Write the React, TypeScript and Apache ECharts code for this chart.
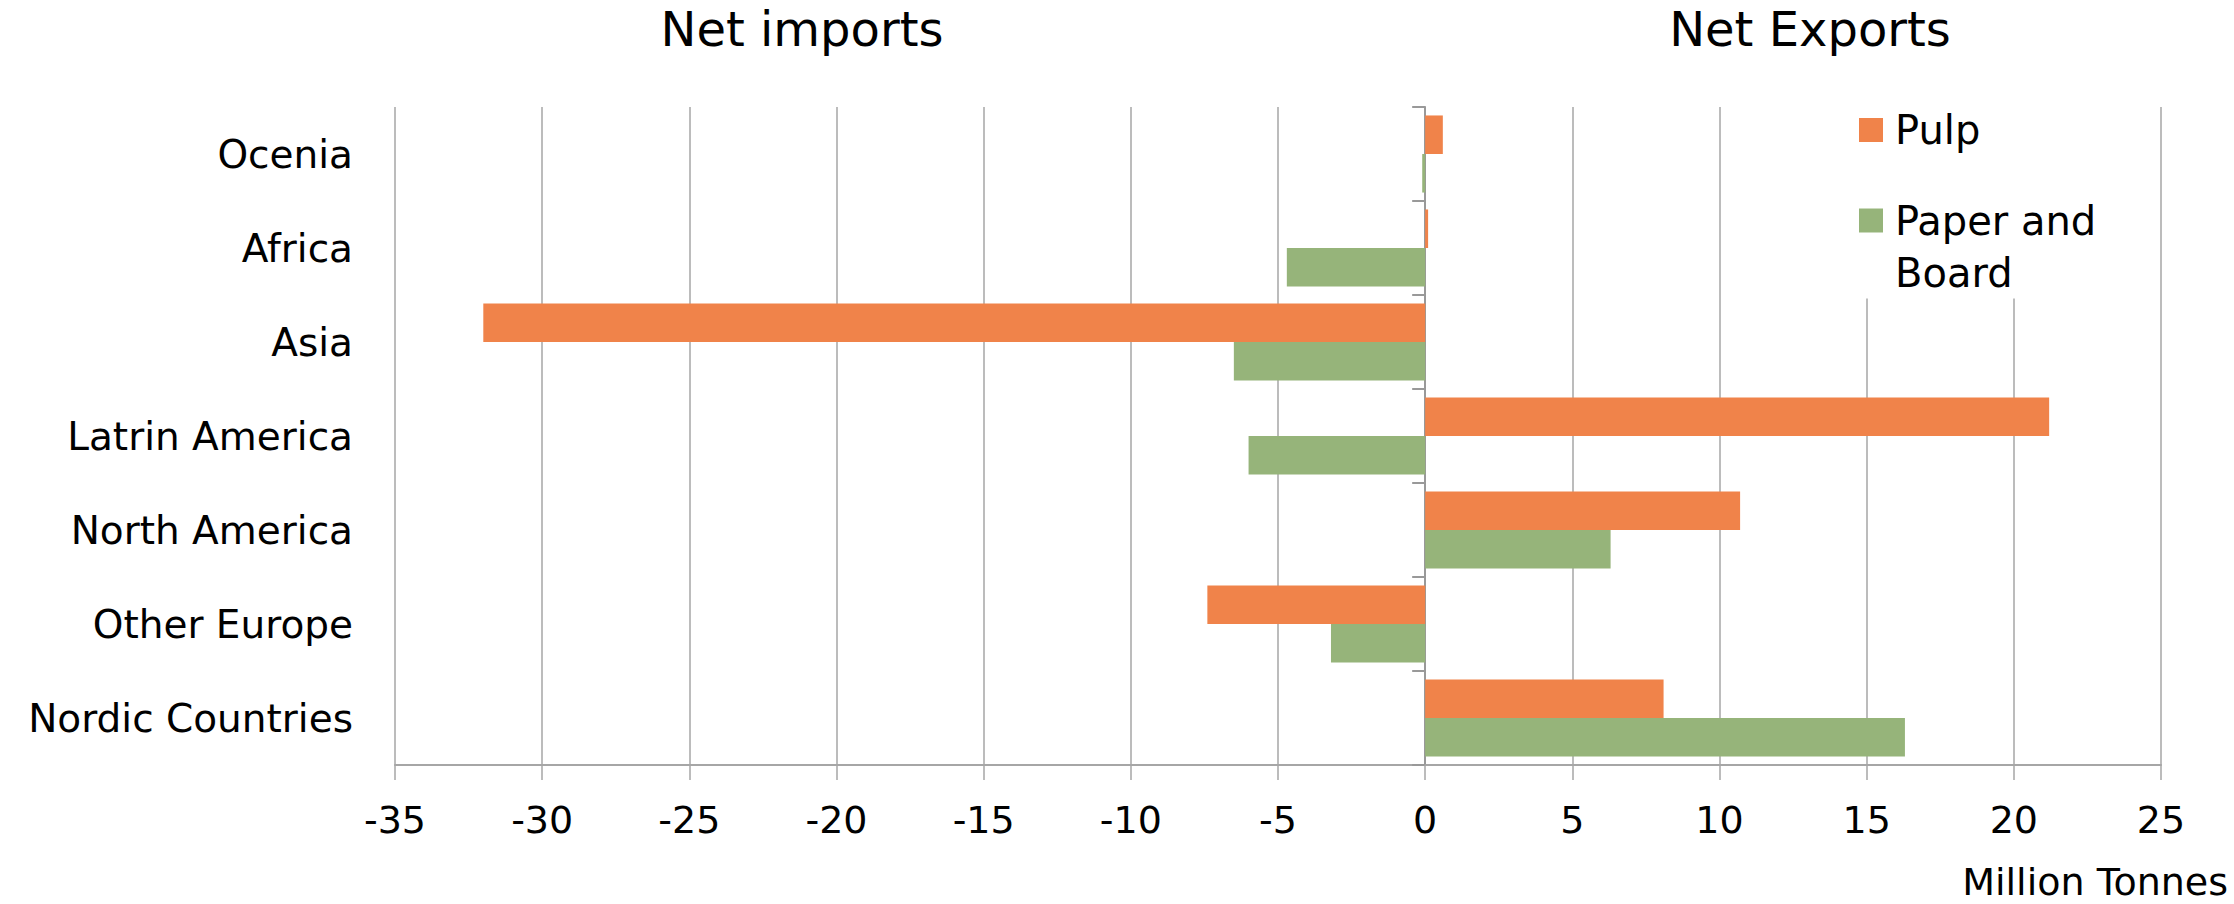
import React, { useEffect, useRef } from "react";
import * as echarts from "echarts";

const categories = [
  "Ocenia",
  "Africa",
  "Asia",
  "Latrin America",
  "North America",
  "Other Europe",
  "Nordic Countries",
];
const pulpValues = [0.6, 0.1, -32.0, 21.2, 10.7, -7.4, 8.1];
const paperValues = [-0.1, -4.7, -6.5, -6.0, 6.3, -3.2, 16.3];
const seriesNames = ["Pulp", "Paper and Board"];
const xMin = -35;
const xMax = 25;
const xInterval = 5;
const titleLeft = "Net imports";
const titleRight = "Net Exports";
const unitLabel = "Million Tonnes";

const FONT = "'DejaVu Sans', sans-serif";
const GRID_COLOR = "#A6A6A6";
const PULP_COLOR = "#F0834A";
const PAPER_COLOR = "#96B47A";

export default function App() {
  const ref = useRef<HTMLDivElement>(null);
  useEffect(() => {
    if (!ref.current) return;
    const chart = echarts.init(ref.current, null, { renderer: "svg" });
    chart.setOption({
      animation: false,
      backgroundColor: "#ffffff",
      grid: { left: 395, right: 73, top: 107, bottom: 139, containLabel: false },
      xAxis: {
        type: "value",
        min: xMin,
        max: xMax,
        interval: xInterval,
        axisLine: { show: true, onZero: false, lineStyle: { color: GRID_COLOR, width: 2 } },
        axisTick: { show: true, length: 15, lineStyle: { color: GRID_COLOR, width: 1.5 } },
        splitLine: { show: true, lineStyle: { color: GRID_COLOR, width: 1.5 } },
        axisLabel: { fontFamily: FONT, fontSize: 38, color: "#000", margin: 36 },
      },
      yAxis: [
        {
          type: "category",
          data: categories,
          inverse: true,
          axisLine: { show: true, onZero: true, lineStyle: { color: "#999999", width: 2 } },
          axisTick: { show: true, length: 13, lineStyle: { color: "#999999", width: 2 } },
          axisLabel: { show: false },
          splitLine: { show: false },
        },
        {
          type: "category",
          data: categories,
          inverse: true,
          position: "left",
          axisLine: { show: false, onZero: false },
          axisTick: { show: false },
          splitLine: { show: false },
          axisLabel: { fontFamily: FONT, fontSize: 39, color: "#000", margin: 42 },
        },
      ],
      legend: {
        orient: "vertical",
        left: 1850,
        top: 104,
        padding: [0, 12, 0, 9],
        itemWidth: 24,
        itemHeight: 24,
        itemGap: -13.5,
        icon: "rect",
        backgroundColor: "#ffffff",
        textStyle: { fontFamily: FONT, fontSize: 40, lineHeight: 52, color: "#000" },
        formatter: (name: string) => (name === "Paper and Board" ? " \nPaper and\nBoard" : name),
        data: [
          { name: seriesNames[0], textStyle: { padding: [0, 0, 0, 7] } },
          { name: seriesNames[1], textStyle: { padding: [0, 0, 0, 7] } },
        ],
      },
      graphic: [
        {
          type: "text",
          style: { text: titleLeft, font: `48px ${FONT}`, fill: "#000", align: "center", verticalAlign: "middle", x: 0, y: 0 },
          x: 802,
          y: 29,
        },
        {
          type: "text",
          style: { text: titleRight, font: `48px ${FONT}`, fill: "#000", align: "center", verticalAlign: "middle", x: 0, y: 0 },
          x: 1810,
          y: 29,
        },
        {
          type: "text",
          style: { text: unitLabel, font: `38px ${FONT}`, fill: "#000", align: "right", verticalAlign: "middle", x: 0, y: 0 },
          x: 2228,
          y: 882,
        },
      ],
      series: [
        {
          name: seriesNames[0],
          type: "bar",
          yAxisIndex: 0,
          data: pulpValues,
          barGap: "0%",
          barCategoryGap: "18%",
          itemStyle: { color: PULP_COLOR },
        },
        {
          name: seriesNames[1],
          type: "bar",
          yAxisIndex: 0,
          data: paperValues,
          barGap: "0%",
          barCategoryGap: "18%",
          itemStyle: { color: PAPER_COLOR },
        },
      ],
    });
    return () => chart.dispose();
  }, []);
  return (
    <div
      ref={ref}
      style={{ position: "fixed", left: 0, top: 0, width: 2234, height: 904 }}
    />
  );
}
